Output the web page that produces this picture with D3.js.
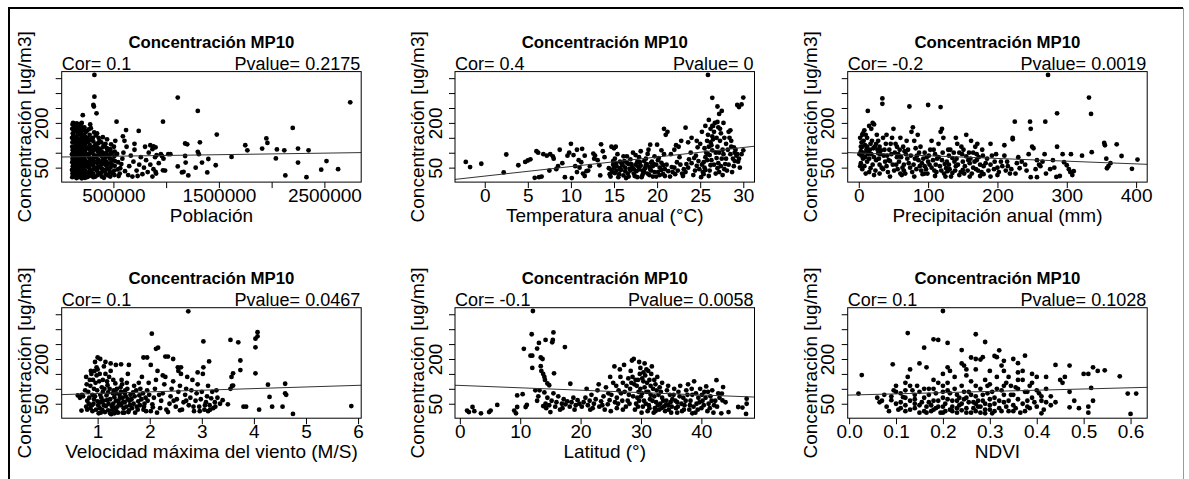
<!DOCTYPE html>
<html>
<head>
<meta charset="utf-8">
<script src="https://cdn.jsdelivr.net/npm/d3@7"></script>
<style>
  body { margin: 0; background: #fff; }
  svg { display: block; font-family: "Liberation Sans", Arial, sans-serif; }
  .tick line { stroke: #000; }
  .tick text { fill: #000; }
</style>
</head>
<body>
<div id="chart"></div>
<script>
const width = 1189, height = 479;

// concentracion MP10 vs each variable: [x, ug/m3]
const pobPts = [
  [110000,18],[112000,30],[108000,42],[115000,55],[110000,68],[113000,80],[108000,95],[115000,108],[110000,120],[112000,135],[108000,150],[115000,165],[110000,180],[113000,195],[118000,200],
  [150000,15],[148000,26],[152000,38],[150000,50],[155000,62],[148000,75],[152000,88],[150000,100],[155000,112],[148000,125],[152000,140],[150000,155],[155000,170],[148000,185],[152000,198],
  [190000,20],[188000,32],[192000,45],[190000,58],[195000,70],[188000,82],[192000,95],[190000,108],[195000,120],[188000,133],[192000,147],[190000,160],[195000,175],[188000,190],[200000,200],
  [230000,16],[228000,28],[232000,40],[230000,52],[235000,65],[228000,78],[232000,90],[230000,103],[235000,115],[228000,128],[232000,142],[230000,155],[238000,170],[225000,185],
  [270000,22],[268000,35],[272000,48],[270000,60],[275000,72],[268000,86],[272000,98],[270000,112],[275000,126],[268000,140],[275000,160],[265000,178],[280000,195],
  [310000,18],[308000,30],[312000,44],[310000,56],[315000,68],[308000,80],[312000,94],[310000,108],[315000,120],[310000,138],[305000,150],[318000,168],
  [350000,25],[348000,38],[352000,50],[350000,63],[355000,76],[348000,90],[352000,104],[350000,118],[355000,132],[360000,150],[345000,165],
  [390000,20],[388000,33],[392000,46],[390000,60],[395000,74],[388000,88],[392000,102],[398000,118],[385000,135],[400000,152],
  [430000,28],[428000,42],[432000,56],[435000,70],[428000,85],[432000,100],[438000,115],[425000,130],[440000,145],
  [470000,20],[468000,35],[472000,50],[475000,65],[468000,80],[472000,95],[470000,112],[478000,128],
  [510000,25],[508000,40],[512000,56],[515000,72],[508000,88],[512000,104],[505000,120],[518000,140],
  [130000,24],[128000,48],[132000,72],[130000,96],[128000,118],[132000,145],[130000,172],[128000,192],
  [170000,18],[168000,44],[172000,68],[170000,92],[168000,115],[172000,138],[170000,162],[168000,180],
  [210000,25],[208000,48],[212000,74],[210000,98],[208000,122],[212000,150],[210000,178],
  [120000,36],[125000,62],[122000,88],[118000,112],[124000,142],[121000,158],[126000,186],
  [140000,20],[138000,34],[142000,58],[137000,82],[143000,106],[139000,130],[141000,148],[144000,176],[136000,196],
  [160000,30],[162000,52],[158000,66],[163000,84],[157000,104],[161000,122],[159000,146],[164000,166],[160000,190],
  [180000,26],[178000,40],[182000,62],[179000,78],[183000,100],[177000,126],[181000,142],[184000,168],[180000,196],
  [200000,14],[202000,36],[198000,54],[203000,80],[199000,102],[204000,116],[201000,138],[197000,164],[205000,184],
  [220000,22],[218000,44],[222000,60],[217000,84],[223000,108],[219000,134],[221000,160],[224000,176],
  [250000,18],[248000,32],[252000,56],[247000,70],[253000,94],[249000,118],[251000,136],[254000,150],[246000,172],
  [290000,26],[288000,40],[292000,62],[287000,76],[293000,102],[289000,116],[291000,146],[286000,182],
  [330000,20],[332000,48],[328000,70],[333000,86],[329000,112],[331000,128],[334000,158],
  [370000,30],[368000,52],[372000,68],[367000,96],[373000,110],[369000,140],
  [410000,16],[412000,40],[408000,64],[413000,78],[409000,96],[411000,124],
  [450000,24],[452000,46],[448000,62],[453000,90],[449000,108],
  [490000,32],[488000,58],[492000,76],[487000,100],[540000,44],[545000,68],[535000,96],[550000,22],
  [320000,361],[320000,288],[310000,260],[315000,255],[340000,232],[210000,226],[530000,204],[620000,176],[740000,173],[970000,204],
  [1110000,285],[1300000,240],[1480000,161],[2745000,269],[2200000,183],[1950000,148],[1960000,133],[1750000,125],[1770000,108],
  [1910000,114],[2050000,111],[2120000,108],[2250000,114],[2350000,108],[2250000,67],[2040000,81],[2130000,24],[2330000,18],
  [2470000,43],[2520000,72],[2630000,45],[1620000,86],[1320000,135],[1300000,103],[1310000,95],[1180000,131],[1200000,128],
  [1180000,89],[1185000,67],[1110000,54],[1150000,34],[1165000,36],[1210000,24],[1280000,50],[1340000,67],[1400000,79],
  [1390000,34],[1470000,58],[1020000,95],[1040000,95],[960000,89],[970000,41],[900000,36],[880000,121],[900000,118],[910000,92],
  [560000,30],[565000,48],[575000,62],[585000,80],[595000,100],[605000,140],[625000,120],[590000,155],[610000,38],[640000,25],
  [650000,55],[665000,90],[680000,20],[690000,70],[700000,110],[720000,40],[730000,22],[745000,60],[760000,85],[775000,28],
  [790000,50],[800000,120],[810000,75],[825000,35],[835000,100],[850000,60],[870000,20],[880000,45],[895000,85],[905000,30],
  [930000,65],[950000,95],[975000,80],[990000,40],[700000,130],[850000,125],[870000,112]
];

const tempPts = [
  [-2.2,69],[-1.7,52],[-0.4,63],[2.5,94],[2.2,34],[3.9,58],[4.7,69],[5.0,74],[5.3,78],[6.0,105],[6.2,100],[5.8,16],[6.3,18],[6.6,20],
  [6.8,95],[7.2,90],[7.6,95],[7.9,88],[8.3,45],[8.5,55],[8.7,110],[9.3,18],[10.1,15],[9.6,90],[9.8,100],[10.0,130],[10.3,92],
  [10.9,75],[11.2,68],[10.7,110],[11.3,113],[11.6,90],[10.7,35],[11.4,30],[11.6,22],[11.8,38],[12.6,97],[12.8,90],[12.7,80],
  [13.1,75],[13.5,128],[13.7,105],[13.9,85],[13.3,58],[14.4,48],[13.4,24],[14.7,120],[15.0,115],[15.2,120],
  [14.6,20],[14.8,35],[15.0,50],[15.2,65],[15.1,80],[15.4,95],[15.6,28],[15.8,42],[16.0,58],[16.2,72],[16.1,88],[16.4,15],
  [16.6,30],[16.8,46],[17.0,62],[16.9,78],[17.2,100],[17.4,22],[17.6,38],[17.8,54],[18.0,68],[17.9,85],[18.2,18],[18.4,32],
  [18.6,48],[18.8,62],[18.7,80],[18.9,96],[19.1,25],[19.3,40],[19.5,55],[19.4,70],[19.7,88],[19.9,20],[20.1,35],[20.3,50],
  [20.5,66],[20.2,82],[20.7,28],[20.9,45],[21.1,60],[20.8,95],[15.3,40],[16.3,50],[17.3,45],[18.3,40],[19.2,45],[15.7,70],
  [16.7,62],[17.7,70],[18.5,72],[19.6,62],[14.9,60],[16.5,88],[17.5,92],[18.1,105],
  [14.5,28],[14.7,42],[14.9,72],[15.1,32],[15.3,55],[15.5,18],[15.7,48],[15.9,62],[16.1,24],[16.3,38],[16.5,66],[16.7,20],
  [16.9,40],[17.1,52],[17.3,30],[17.5,60],[17.7,18],[17.9,44],[18.1,56],[18.3,25],[18.5,36],[18.7,58],[18.9,30],[19.1,52],
  [19.3,66],[19.5,20],[19.7,35],[19.9,60],[20.1,75],[20.3,25],[20.5,42],[20.7,58],[20.9,22],[21.3,38],[21.7,52],[22.1,28],
  [22.4,40],[22.7,60],[23.0,22],[23.3,35],[23.6,50],[24.0,65],[24.3,82],[24.9,45],[25.2,60],[25.4,28],[25.6,42],[25.8,75],
  [25.9,95],[26.0,120],[26.2,135],[26.4,155],[26.6,60],[26.8,100],[26.9,150],[27.2,35],[27.4,55],[27.5,80],[27.6,110],[27.8,150],
  [28.1,40],[28.3,60],[28.5,95],[28.6,120],[28.8,80],[29.0,100],[29.4,70],[29.6,50],[24.6,140],[25.2,170],[25.6,190],[26.2,180],
  [27.3,180],[22.0,110],[21.6,95],[20.5,108],[19.0,110],[12.2,55],[12.0,40],[11.0,50],[9.0,65],[8.0,80],[7.5,40],[10.5,55],
  [19.2,127],[20.0,127],[20.8,180],[21.2,170],[21.0,160],[23.3,184],[22.2,125],[22.5,120],
  [21.5,20],[21.8,35],[22.0,50],[22.3,68],[22.6,85],[22.9,30],[23.1,45],[23.4,62],[23.7,78],[23.9,100],[24.2,25],[24.4,40],
  [24.6,56],[24.8,72],[24.5,90],[24.7,118],[25.0,130],[25.1,18],[25.3,35],[25.5,50],[25.4,68],[25.6,85],[25.7,100],[25.5,115],
  [25.8,140],[25.9,160],[26.0,22],[26.1,40],[26.2,58],[26.3,75],[26.1,92],[26.4,108],[26.3,125],[26.5,145],[26.6,170],[26.4,190],
  [26.7,200],[26.8,30],[27.0,48],[27.1,65],[26.9,82],[27.2,100],[27.0,120],[27.3,140],[27.4,165],[27.1,185],[27.6,25],[27.8,45],
  [27.9,62],[28.0,80],[27.7,95],[28.2,110],[28.0,130],[28.4,150],[28.3,170],[28.7,35],[28.9,55],[29.0,72],[29.2,90],[29.1,110],
  [29.5,80],[29.8,95],[30.0,108],[24.0,150],[23.6,135],[22.8,140],[26.0,210],
  [25.9,361],[26.4,284],[27.0,255],[27.5,240],[27.2,230],[29.3,260],[29.5,253],[29.8,262],[30.0,285],[27.7,200],[28.5,175],
  [26.5,190],[27.0,203],[28.6,140],[28.9,118],[29.3,95]
];

const precPts = [
  [2,150],[4,135],[5,120],[3,105],[6,165],[8,175],[10,160],[12,150],[7,140],[9,125],[4,90],[6,80],[3,65],[2,55],[5,45],[13,240],
  [15,190],[18,180],[20,200],[22,195],[16,110],[14,100],[18,95],[22,85],[25,75],[20,60],[17,48],[24,40],[22,25],[26,160],[28,140],
  [30,120],[32,108],[28,98],[34,282],[34,264],[36,90],[38,70],[40,55],[35,45],[42,35],[44,110],[46,130],[50,180],[48,150],[52,100],
  [55,85],[58,70],[54,60],[56,45],[60,30],[62,25],[64,120],[66,105],[68,95],[70,80],[72,65],[74,50],[73,255],[76,170],[78,185],
  [80,140],[82,115],[84,90],[86,75],[88,55],[90,40],[92,28],[95,100],[98,85],[100,260],[100,70],[102,60],[105,50],[108,110],
  [110,95],[112,35],[115,130],[118,253],[118,170],[120,180],[122,150],[120,75],[124,62],[126,48],[128,38],[130,90],[132,110],
  [135,82],[138,70],[140,55],[142,130],[145,100],[148,120],[150,42],[152,30],[155,88],[158,75],[160,65],[162,140],[165,50],
  [168,120],[170,95],[172,40],[175,60],[178,110],[180,28],[185,80],[190,130],[195,45],[198,95],[200,25],[205,70],[210,125],
  [212,40],[215,55],[218,30],[222,150],[222,145],[225,204],[228,65],[232,48],[240,60],[247,204],[248,180],[250,120],[252,115],
  [257,75],[260,60],[262,55],[257,18],[248,18],[268,95],[269,204],[273,361],[276,45],[285,19],[290,22],[286,120],[286,232],
  [294,95],[306,95],[300,58],[303,45],[305,35],[308,25],[310,38],[322,90],[332,285],[335,230],[336,102],[354,133],[355,125],
  [357,80],[360,55],[363,65],[358,48],[372,128],[379,89],[394,46],[402,77],
  [10,30],[15,35],[30,30],[45,20],[65,40],[80,20],[95,30],[110,22],[125,20],[135,32],[145,25],[160,20],[175,22],[190,20],
  [85,160],[60,150],[40,160],[105,140],[140,150],[155,160],[65,60],[115,85],[150,70],[170,75],[190,60],[45,72],[30,60],[12,70],
  [8,55],[25,130],[12,120],[35,150],[55,120],[95,55],[130,60],[165,100],[180,55],[200,50],[210,90],[230,85],[245,95],[265,70],[280,75],
  [1,95],[3,120],[5,160],[7,100],[9,85],[11,110],[13,95],[15,80],[17,130],[19,140],[21,115],[23,120],[27,110],[29,80],[31,95],
  [33,50],[37,110],[39,130],[41,90],[43,75],[47,95],[49,60],[51,40],[53,130],[57,95],[59,110],[61,85],[63,50],[67,30],[69,140],
  [71,110],[75,90],[77,35],[79,60],[81,80],[83,45],[87,100],[89,120],[91,65],[93,80],[97,45],[99,30],[101,90],[103,110],[107,75],
  [109,40],[111,60],[113,80],[117,55],[119,40],[121,100],[123,30],[127,70],[129,110],[131,45],[133,20],[137,100],[139,40],[141,80],
  [143,60],[147,35],[149,95],[151,110],[153,55],[157,40],[159,100],[161,80],[163,30],[167,70],[169,45],[171,130],[173,85],[177,35],
  [179,90],[183,65],[187,40],[192,90],[196,70],[202,35],[207,55],[214,70],[220,45],[226,30],[235,70],[242,40],[255,45],[270,30],
  [282,50],[296,68]
];

const vientoPts = [
  [2.74,360],[2.04,285],[3.03,259],[3.55,264],[3.7,256],[4.07,290],[4.07,276],[4.03,268],[4.03,239],[4.03,152],[2.12,234],
  [2.16,238],[2.3,208],[2.35,208],[3.74,195],[3.74,163],[3.14,192],[3.03,172],[2.6,172],[2.54,172],[1.88,205],[1.95,205],
  [4.27,114],[4.6,117],[4.6,85],[4.3,73],[4.62,80],[4.1,30],[4.35,40],[4.55,40],[4.75,16],[3.8,40],[3.85,40],[5.87,42],
  [3.57,140],[3.6,152],[3.55,100],[3.58,110],[3.6,111],[3.5,48],
  [0.66,70],[0.62,78],[0.7,80],[0.72,75],[0.69,27],[0.95,190],[1.05,200],[1.0,205],[1.35,180],[1.45,182],[1.6,180],
  [0.78,40],[0.8,60],[0.82,90],[0.79,115],[0.85,130],[0.88,150],[0.9,25],[0.92,50],[0.95,75],[0.93,100],[0.96,120],[0.98,145],
  [1.0,165],[1.02,18],[1.04,35],[1.06,55],[1.05,80],[1.08,105],[1.1,130],[1.12,175],[1.14,22],[1.16,42],[1.18,62],[1.2,88],
  [1.19,112],[1.22,140],[1.25,160],[1.26,15],[1.28,30],[1.3,50],[1.32,72],[1.31,95],[1.34,118],[1.36,25],[1.38,40],[1.4,60],
  [1.42,80],[1.44,105],[1.46,130],[1.48,20],[1.5,35],[1.52,55],[1.54,75],[1.53,95],[1.56,120],[1.58,150],[1.6,28],[1.62,45],
  [1.65,65],[1.68,88],[1.7,110],[1.72,20],[1.75,40],[1.78,58],[1.8,78],[1.82,100],[1.85,140],[1.88,30],[1.9,50],[1.92,70],
  [1.95,95],[1.98,120],[0.86,35],[1.0,58],[1.12,45],[1.24,65],[1.36,85],[1.48,70],[1.1,90],[0.9,80],[1.2,28],[1.32,18],
  [1.45,45],[1.58,65],
  [0.76,95],[0.78,140],[0.8,30],[0.83,50],[0.84,70],[0.86,110],[0.87,160],[0.89,45],[0.91,130],[0.93,65],[0.94,160],[0.97,30],
  [0.99,95],[1.01,45],[1.03,125],[1.04,150],[1.06,20],[1.07,70],[1.09,30],[1.11,60],[1.13,100],[1.15,150],[1.17,78],[1.18,125],
  [1.21,50],[1.23,100],[1.24,18],[1.27,42],[1.29,85],[1.3,130],[1.33,35],[1.35,60],[1.37,100],[1.39,20],[1.41,50],[1.43,70],
  [1.45,90],[1.47,115],[1.49,55],[1.51,20],[1.52,85],[1.55,40],[1.57,100],[1.59,22],[1.61,60],[1.63,80],[1.66,35],[1.69,50],
  [1.71,75],[1.74,95],[1.77,30],[1.79,120],[1.81,45],[1.84,65],[1.87,85],[1.89,40],[1.93,25],[1.96,60],[1.99,80],[2.06,38],
  [2.18,80],[2.32,30],[2.46,60],[2.58,28],[2.7,60],[2.84,40],[2.96,25],[3.06,45],[3.16,30],[3.26,40],[1.15,190],[1.25,185],
  [0.98,172],
  [2.02,25],[2.05,48],[2.08,70],[2.1,100],[2.12,130],[2.15,160],[2.02,180],[2.2,35],[2.22,60],[2.25,85],[2.28,115],[2.3,140],
  [2.14,20],[2.35,22],[2.38,50],[2.4,75],[2.42,100],[2.45,125],[2.5,40],[2.52,65],[2.55,90],[2.58,110],[2.6,150],[2.62,30],
  [2.65,55],[2.68,80],[2.7,100],[2.72,140],[2.75,45],[2.78,70],[2.8,95],[2.82,130],[2.85,25],[2.88,60],[2.9,85],[2.92,115],
  [2.95,40],[2.98,65],[3.0,90],[3.02,150],[3.05,30],[3.08,55],[3.1,75],[3.12,25],[3.15,45],[3.18,68],[3.2,90],[3.22,35],
  [3.25,55],[3.3,70],[3.35,50],[3.4,62],[2.45,200],[2.55,160],[2.92,155],[2.25,145],[3.28,95],[3.12,110]
];

const latPts = [
  [12.1,361],[11.9,283],[10.6,234],[12.8,235],[13.1,254],[14.2,264],[15.4,264],[15.5,289],[15.3,256],[17.4,240],[11.7,211],
  [12.0,211],[13.4,205],[13.7,200],[12.0,170],[13.4,176],[13.5,160],[13.8,150],[14.0,140],[14.1,130],[15.6,152],[14.5,118],
  [14.8,112],[18.3,117],[12.5,95],
  [1.2,27],[1.5,22],[2.1,39],[2.4,25],[3.5,18],[4.85,22],[5.1,27],[6.2,46],[9.0,27],[9.3,18],[9.5,39],[9.5,78],[10.4,82],
  [10.9,39],[11.1,46],
  [14.2,50],[14.5,70],[14.8,45],[15.2,60],[15.5,85],[15.8,40],[16.0,55],[16.3,75],[16.6,30],[16.9,50],[17.2,65],[17.5,48],
  [17.8,58],[18.2,40],[18.5,55],[18.8,70],[19.2,45],[19.5,62],[19.8,50],[14.3,35],[15.0,22],[13.8,42],[13.2,95],[13.0,75],
  [12.8,60],[14.0,88],
  [20.2,40],[20.5,55],[20.8,70],[21.2,45],[21.5,60],[21.8,80],[22.2,50],[22.5,65],[22.8,95],[23.1,40],[23.4,58],[23.8,75],
  [24.2,105],[24.5,48],[24.8,62],[25.1,80],[25.4,120],[25.6,175],[25.7,55],[26.0,70],[26.3,95],[26.6,140],[26.9,60],[21.0,100],
  [23.0,115],[24.0,30],[25.0,25],[26.0,35],[26.5,165],[27.0,120],[27.2,180],
  [27.5,40],[27.8,60],[28.0,80],[28.2,100],[28.4,120],[28.6,140],[28.3,160],[28.5,195],[28.8,200],[29.0,30],[29.2,50],[29.4,70],
  [29.6,90],[29.3,110],[29.5,130],[29.8,150],[29.9,170],[29.7,190],[30.1,20],[30.3,40],[30.5,60],[30.2,85],[30.6,105],[30.4,125],
  [30.7,145],[30.9,165],[30.6,185],[31.1,25],[31.3,45],[31.5,65],[31.2,90],[31.6,110],[31.4,130],[31.7,150],[31.8,175],[32.1,20],
  [32.3,35],[32.5,55],[32.2,75],[32.6,95],[32.4,115],[32.7,140],[33.0,30],[33.2,50],[33.5,70],[33.3,90],[33.8,40],[34.0,25],
  [34.2,60],[34.5,45],[34.8,80],[35.0,20],[35.2,65],[35.5,100],[35.8,35],[36.0,55],[36.2,90],[36.5,110],[36.8,25],[37.0,70],
  [37.2,45],[37.5,95],[37.8,115],[38.0,30],[38.2,60],[38.5,80],[38.8,125],[39.0,20],[39.2,50],[39.5,70],[39.8,100],[40.0,35],
  [40.2,60],[40.5,90],[40.8,108],[41.0,25],[41.2,50],[41.5,75],[41.8,95],[42.0,20],[42.3,60],[42.5,129],[42.8,85],[43.3,18],
  [43.4,84],[43.6,106],[43.5,61],[44.5,22],[46.1,39],[46.8,37],[47.5,50],[47.5,67],[47.4,16],[36.0,20],[38.5,18],[34.5,110],
  [33.5,120],
  [27.3,90],[27.6,110],[27.9,135],[28.1,50],[28.7,75],[28.9,115],[29.1,130],[29.5,40],[29.7,60],[29.9,100],[30.0,75],[30.2,135],
  [30.4,155],[30.8,50],[30.9,90],[31.0,120],[31.2,160],[31.4,35],[31.6,80],[31.9,60],[32.0,100],[32.2,130],[32.4,25],[32.8,45],
  [32.9,80],[33.1,105],[33.4,35],[33.7,60],[34.1,45],[34.3,95],[34.6,30],[34.9,55],[35.1,40],[35.4,80],[35.7,60],[36.1,40],
  [36.4,75],[36.7,50],[37.1,30],[37.4,60],[37.7,80],[38.1,45],[38.4,100],[38.7,40],[39.1,85],[39.4,30],[39.7,55],[40.1,80],
  [40.4,45],[40.7,70],[41.1,90],[41.4,35],[41.7,60],[42.1,45],[42.6,40],[43.0,70],[44.0,55],[22.0,35],[23.6,45],[21.6,30],
  [19.0,30],[17.0,35],[24.6,85],[26.2,50],[26.7,85],[27.0,30],[25.9,110],[24.9,140]
];

const ndviPts = [
  [0.02,84],[0.027,146],[0.2,361],[0.125,287],[0.27,283],[0.29,257],[0.18,266],[0.19,264],[0.21,254],[0.16,238],[0.24,230],
  [0.32,229],[0.26,205],[0.27,200],[0.28,198],[0.285,206],[0.31,210],[0.315,206],[0.375,211],[0.36,186],[0.35,200],[0.33,194],
  [0.325,178],[0.093,182],[0.15,185],[0.165,172],[0.21,172],[0.215,160],[0.24,185],[0.245,178],[0.44,180],[0.47,178],[0.52,172],
  [0.53,160],[0.545,162],[0.50,150],[0.51,150],[0.577,142],[0.516,103],[0.594,84],[0.612,84],[0.6,16],[0.41,18],[0.45,130],
  [0.46,140],[0.455,120],[0.47,90],[0.48,60],[0.47,38],[0.44,55],[0.43,45],[0.51,40],[0.51,20],[0.52,60],[0.49,35],
  [0.06,70],[0.065,55],[0.075,80],[0.08,40],[0.09,62],[0.095,95],[0.1,110],[0.1,50],[0.105,30],[0.11,85],[0.115,72],[0.12,120],
  [0.12,45],[0.125,140],[0.13,60],[0.135,95],[0.14,35],[0.14,80],[0.145,110],[0.15,20],[0.155,55],[0.16,70],[0.165,40],
  [0.17,100],[0.175,25],[0.18,60],[0.185,85],[0.19,120],[0.19,40],[0.195,20],[0.2,70],[0.205,50],[0.21,95],[0.215,30],[0.22,60],
  [0.225,140],[0.23,80],[0.23,20],[0.235,45],[0.24,110],[0.245,65],[0.25,35],[0.255,90],[0.26,20],[0.26,125],[0.265,55],
  [0.27,75],[0.275,40],[0.28,100],[0.28,20],[0.285,60],[0.29,30],[0.295,85],[0.3,115],[0.3,45],[0.305,18],[0.31,70],[0.315,140],
  [0.32,35],[0.325,95],[0.33,55],[0.335,120],[0.34,25],[0.345,80],[0.35,45],[0.355,105],[0.36,65],[0.365,20],[0.37,130],
  [0.375,90],[0.38,40],[0.385,110],[0.39,70],[0.395,55],[0.4,140],[0.405,85],[0.41,60],[0.42,140],[0.42,100],
  [0.085,25],[0.12,25],[0.16,25],[0.18,30],[0.2,20],[0.22,25],[0.24,28],[0.27,25],[0.29,18],[0.31,25],[0.35,25],[0.11,55],
  [0.14,50],[0.17,55],[0.2,90],[0.23,60],[0.25,70],[0.27,50],[0.3,65],[0.33,80],[0.36,100],[0.38,60],[0.15,90],[0.21,120],
  [0.25,145],[0.29,130],[0.34,140],[0.37,160],[0.18,130],[0.12,95],
  [0.07,60],[0.09,75],[0.1,90],[0.11,35],[0.12,70],[0.13,30],[0.13,110],[0.14,65],[0.15,45],[0.16,100],[0.165,20],[0.17,80],
  [0.175,45],[0.18,100],[0.185,35],[0.19,60],[0.2,40],[0.2,110],[0.205,25],[0.21,65],[0.215,85],[0.22,40],[0.225,100],[0.23,35],
  [0.235,70],[0.24,50],[0.245,90],[0.25,20],[0.255,55],[0.26,80],[0.265,35],[0.27,110],[0.275,60],[0.28,40],[0.285,80],[0.29,50],
  [0.295,110],[0.3,30],[0.305,90],[0.31,50],[0.315,100],[0.32,60],[0.325,25],[0.33,110],[0.335,40],[0.34,60],[0.345,110],
  [0.35,80],[0.355,35],[0.36,130],[0.37,50],[0.375,25],[0.38,90],[0.385,35],[0.39,120],[0.4,40],[0.4,95],[0.41,75],[0.415,30],
  [0.42,55],[0.43,75],[0.25,165],[0.3,160],[0.33,160],[0.27,165],[0.2,150],[0.13,165],[0.39,150],[0.36,155]
];

const xTitles = ["Población", "Temperatura anual (°C)", "Precipitación anual (mm)",
                 "Velocidad máxima del viento (M/S)", "Latitud (°)", "NDVI"];
const corLabels = ["Cor= 0.1", "Cor= 0.4", "Cor= -0.2", "Cor= 0.1", "Cor= -0.1", "Cor= 0.1"];
const pvalLabels = ["Pvalue= 0.2175", "Pvalue= 0", "Pvalue= 0.0019", "Pvalue= 0.0467", "Pvalue= 0.0058", "Pvalue= 0.1028"];
// [intercept, slope] of the fitted line
const fits = [[85.6, 0.0000052], [21.6, 3.2], [99.0, -0.0912], [78.8, 5.48], [111.4, -0.8], [79.0, 40.9]];
const xDomains = [[10000, 2849000], [-3.45, 31.3], [-16, 416], [0.31, 6.06], [-0.8, 48.8], [-0.003, 0.6355]];
const xTickVals = [
  [500000, 1000000, 1500000, 2000000, 2500000],
  [0, 5, 10, 15, 20, 25, 30],
  [0, 100, 200, 300, 400],
  [1, 2, 3, 4, 5, 6],
  [0, 10, 20, 30, 40],
  [0, 0.1, 0.2, 0.3, 0.4, 0.5, 0.6]
];
const xTickShown = [
  ["500000", "", "1500000", "", "2500000"],
  ["0", "5", "10", "15", "20", "25", "30"],
  ["0", "100", "200", "300", "400"],
  ["1", "2", "3", "4", "5", "6"],
  ["0", "10", "20", "30", "40"],
  ["0.0", "0.1", "0.2", "0.3", "0.4", "0.5", "0.6"]
];
const yTickVals = [50, 100, 150, 200, 250, 300, 350];
const yTickShown = ["50", "", "", "200", "", "", ""];
const yDomain = [1.5, 372];

const allPts = [pobPts, tempPts, precPts, vientoPts, latPts, ndviPts];

// layout
const colX = [61.7, 455, 847.7];
const rowY = [71.6, 307.7];
const boxW = 299.5, boxH = 110.5;

const svg = d3.select("#chart").append("svg")
  .attr("width", width)
  .attr("height", height);

// outer frame (left, top, right)
svg.append("path")
  .attr("d", `M9,${height} V8 H1183`)
  .attr("fill", "none")
  .attr("stroke", "#000")
  .attr("stroke-width", 2);
svg.append("line")
  .attr("x1", 1183.5).attr("x2", 1183.5)
  .attr("y1", 8).attr("y2", height)
  .attr("stroke", "#999")
  .attr("stroke-width", 1);

allPts.forEach((pts, i) => {
  const col = i % 3, row = Math.floor(i / 3);
  const left = colX[col], top = rowY[row];

  const x = d3.scaleLinear().domain(xDomains[i]).range([left, left + boxW]);
  const y = d3.scaleLinear().domain(yDomain).range([top + boxH, top]);

  const g = svg.append("g");

  // x axis
  const xLab = xTickShown[i];
  const xAx = g.append("g")
    .attr("transform", `translate(0,${top + boxH})`)
    .call(d3.axisBottom(x)
      .tickValues(xTickVals[i])
      .tickSize(6)
      .tickPadding(0)
      .tickFormat((d, k) => xLab[k]));
  xAx.select(".domain").remove();
  xAx.selectAll("text")
    .attr("y", 20).attr("dy", 0)
    .style("font-size", "19px");

  // y axis, labels parallel to the axis
  const yAx = g.append("g")
    .attr("transform", `translate(${left},0)`)
    .call(d3.axisLeft(y)
      .tickValues(yTickVals)
      .tickSize(6)
      .tickFormat((d, k) => yTickShown[k]));
  yAx.select(".domain").remove();
  yAx.selectAll("text")
    .attr("x", null).attr("dy", null)
    .attr("text-anchor", "middle")
    .attr("transform", "translate(-13.4,0) rotate(-90)")
    .style("font-size", "19px");

  // points
  g.append("g")
    .selectAll("circle")
    .data(pts)
    .join("circle")
      .attr("cx", d => x(d[0]))
      .attr("cy", d => y(d[1]))
      .attr("r", 2.4)
      .attr("fill", "#000");

  // fitted line
  const [a, b] = fits[i];
  const [x0, x1] = xDomains[i];
  g.append("line")
    .attr("x1", x(x0)).attr("y1", y(a + b * x0))
    .attr("x2", x(x1)).attr("y2", y(a + b * x1))
    .attr("stroke", "#333")
    .attr("stroke-width", 1);

  // box
  g.append("rect")
    .attr("x", left).attr("y", top)
    .attr("width", boxW).attr("height", boxH)
    .attr("fill", "none")
    .attr("stroke", "#000")
    .attr("stroke-width", 1);

  // texts
  g.append("text")
    .attr("x", left + boxW / 2).attr("y", top - 24)
    .attr("text-anchor", "middle")
    .style("font-size", "16.8px")
    .style("font-weight", "bold")
    .text("Concentración MP10");

  g.append("text")
    .attr("x", left).attr("y", top - 1.5)
    .style("font-size", "18px")
    .text(corLabels[i]);

  g.append("text")
    .attr("x", left + boxW - 1).attr("y", top - 1.5)
    .attr("text-anchor", "end")
    .style("font-size", "18px")
    .text(pvalLabels[i]);

  g.append("text")
    .attr("x", left + boxW / 2).attr("y", top + boxH + 40)
    .attr("text-anchor", "middle")
    .style("font-size", "19px")
    .text(xTitles[i]);

  g.append("text")
    .attr("transform", `translate(${left - 30.7},${top + boxH / 2}) rotate(-90)`)
    .attr("text-anchor", "middle")
    .style("font-size", "19px")
    .text("Concentración [ug/m3]");
});
</script>
</body>
</html>
